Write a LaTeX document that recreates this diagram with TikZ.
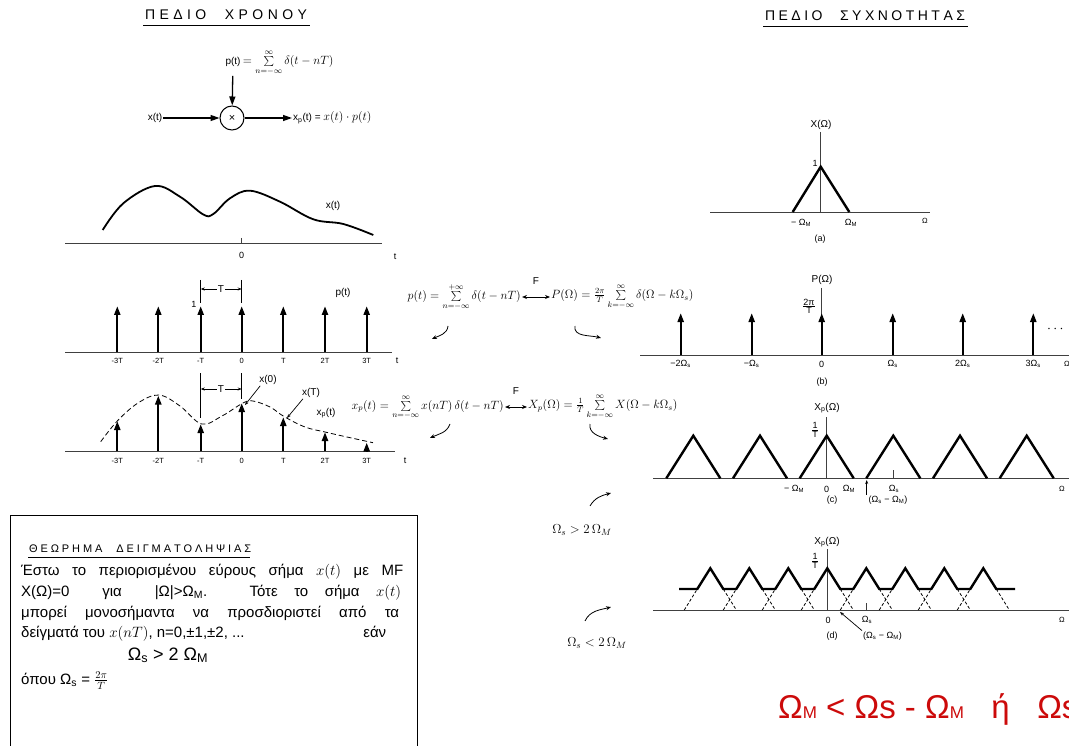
\RequirePackage{fix-cm}
\documentclass[tikz,border=0pt]{standalone}
\usepackage{fontspec}
\setmainfont{Liberation Sans}
\usetikzlibrary{arrows.meta}
\definecolor{redtxt}{RGB}{204,10,10}
\begin{document}
\begin{tikzpicture}[x=1pt,y=-1pt,
  every node/.style={inner sep=1pt},
  ax/.style={line width=0.9pt, black!75},
  thin/.style={line width=0.8pt},
  blk/.style={line width=1.3pt,-{Triangle[length=9pt,width=6pt]}},
  imp/.style={line width=2.2pt,-{Triangle[length=9pt,width=6pt]}},
  tri/.style={line width=2.4pt,line join=miter},
  harr/.style={line width=0.8pt,-{Stealth[length=5pt,width=4pt]}},
  tarr/.style={line width=0.7pt,-{Stealth[length=4pt,width=3pt]}},
  lbl/.style={font=\fontsize{9}{10}\selectfont},
  slbl/.style={font=\fontsize{7.5}{9}\selectfont},
  mlbl/.style={font=\fontsize{10}{12}\selectfont},
  hdr/.style={font=\fontsize{14}{16}\selectfont},
  frm/.style={font=\fontsize{12}{14}\selectfont},
  thm/.style={font=\fontsize{15}{17}\selectfont,anchor=base west}
]
\useasboundingbox[fill=white] (0,0) rectangle (1069,746);

% ---------- headers
\node[hdr,anchor=base] (h1) at (226,20) {\makebox[162pt][s]{Π Ε Δ Ι Ο \quad Χ Ρ Ο Ν Ο Υ}};
\draw[thin] (143,25) -- (310,25);
\node[hdr,anchor=base] (h2) at (865,21) {\makebox[200pt][s]{Π Ε Δ Ι Ο \quad Σ Υ Χ Ν Ο Τ Η Τ Α Σ}};
\draw[thin] (763,26) -- (968,26);

% ---------- block diagram
\node[circle,draw,line width=1pt,minimum size=24pt,inner sep=0pt,font=\fontsize{11}{12}\selectfont] (mult) at (232,118) {×};
\node[mlbl] (xin) at (155,118) {x(t)};
\draw[blk] (xin) -- (mult);
\node[mlbl] (ptl) at (233,62) {p(t)};
\node[frm,anchor=base west] (ptf) at (ptl.base east) {$=\sum\limits_{n=-\infty}^{\infty}\delta(t-nT)$};
\draw[blk,shorten <=8pt] (ptl) -- (mult);
\node[mlbl,anchor=west] (out) at (292,118) {x\textsubscript{p}(t) = {\fontsize{12}{14}\selectfont$x(t)\cdot p(t)$}};
\draw[blk] (mult) -- (out);

% ---------- x(t)
\draw[ax] (65,243) -- (382,243);
\draw[ax] (241.7,238) -- (241.7,243);
\node[lbl] (x0) at (241.7,255) {0};
\node[lbl] (xt) at (395,257) {t};
\draw[line width=1.8pt] plot[smooth,tension=0.6] coordinates {(102.7,230) (123.3,203.3) (155,186) (180,196.7) (203.3,214.5) (213.3,214) (230,198.3) (250,190.7) (280,201.7) (313.3,219.3) (343.3,224) (373.3,235)};
\node[mlbl] (xlab) at (333,206) {x(t)};

% ---------- p(t)
\draw[ax] (65,352) -- (392,352);
\foreach \x/\l [count=\i] in {117.3/-3T,158.3/-2T,200.7/-T,241.7/0,283.3/T,325/2T,366.7/3T}{
  \draw[imp] (\x,352) -- (\x,306);
  \node[slbl] (pl\i) at (\x,361) {\l};
}
\node[lbl] (one) at (194,304) {1};
\draw[thin] (200.7,280) -- (200.7,303);
\draw[thin] (241.7,280) -- (241.7,303);
\node[mlbl] (pT) at (221,289) {T};
\coordinate (pTl) at (200.7,289);
\coordinate (pTr) at (241.7,289);
\draw[tarr] (pT) -- (pTl);
\draw[tarr] (pT) -- (pTr);
\node[mlbl] (plab) at (343,293) {p(t)};
\node[lbl] (pt) at (397,361) {t};

% ---------- x_p(t)
\draw[ax] (65,451) -- (395,451);
\draw[dashed,line width=0.8pt,dash pattern=on 5pt off 3pt] plot[smooth,tension=0.6] coordinates {(100.7,441.7) (117.3,421) (138,403) (159,395) (180,406) (201.7,424) (222,416) (243,403) (253,401) (270,407) (284,416.5) (305,427) (325,432) (347,437) (373,442.7)};
\foreach \x/\t/\l [count=\i] in {117.3/421/-3T,158.3/395.5/-2T,200.7/424/-T,241.7/403/0,283.3/417/T,325/432/2T,366.7/442.5/3T}{
  \draw[imp] (\x,451) -- (\x,\t);
  \node[slbl] (ql\i) at (\x,461) {\l};
}
\draw[thin] (200.7,373) -- (200.7,418);
\draw[thin] (241.7,373) -- (241.7,399);
\node[mlbl] (qT) at (221,389) {T};
\coordinate (qTl) at (200.7,389);
\coordinate (qTr) at (241.7,389);
\draw[tarr] (qT) -- (qTl);
\draw[tarr] (qT) -- (qTr);
\node[mlbl] (x0l) at (268,380) {x(0)};
\coordinate (x0p) at (245,405);
\draw[tarr] (x0l.south west) ++(2,0) coordinate (x0s) (x0s) -- (x0p);
\node[mlbl] (xTl) at (311,393) {x(T)};
\coordinate (xTp) at (287,418);
\draw[tarr] (xTl.south west) ++(2,0) coordinate (xTs) (xTs) -- (xTp);
\node[mlbl] (xplab) at (326,413) {x\textsubscript{p}(t)};
\node[lbl] (qt) at (405,461) {t};

% ---------- middle formulas
\node[frm,anchor=east] (f1l) at (522,297) {$p(t)=\sum\limits_{n=-\infty}^{+\infty}\delta(t-nT)$};
\node[frm,anchor=west] (f1r) at (550,297) {$P(\Omega)=\frac{2\pi}{T}\sum\limits_{k=-\infty}^{\infty}\delta(\Omega-k\Omega_s)$};
\draw[line width=0.9pt,{Stealth[length=5pt,width=4pt]}-{Stealth[length=5pt,width=4pt]}] (f1l) -- node[above=11pt,font=\fontsize{10}{12}\selectfont] (F1) {F} (f1r);
\node[frm,anchor=east] (f2l) at (505,407) {$x_p(t)=\sum\limits_{n=-\infty}^{\infty}x(nT)\,\delta(t-nT)$};
\node[frm,anchor=west] (f2r) at (527,407) {$X_p(\Omega)=\frac{1}{T}\sum\limits_{k=-\infty}^{\infty}X(\Omega-k\Omega_s)$};
\draw[line width=0.9pt,{Stealth[length=5pt,width=4pt]}-{Stealth[length=5pt,width=4pt]}] (f2l) -- node[above=11pt,font=\fontsize{10}{12}\selectfont] (F2) {F} (f2r);

\coordinate (a1s) at (448,326); \coordinate (a1e) at (432,339);
\draw[harr] (a1s) to[out=-95,in=25] (a1e);
\coordinate (a2s) at (575,326); \coordinate (a2e) at (601,338);
\draw[harr] (a2s) to[out=-100,in=165] (a2e);
\coordinate (a3s) at (450,424); \coordinate (a3e) at (430,438);
\draw[harr] (a3s) to[out=-110,in=25] (a3e);
\coordinate (a4s) at (590,424); \coordinate (a4e) at (608,439);
\draw[harr] (a4s) to[out=-100,in=165] (a4e);

\node[font=\fontsize{13}{15}\selectfont] (cond1) at (582,530) {$\Omega_s > 2\,\Omega_M$};
\coordinate (a5s) at (590,506); \coordinate (a5e) at (611,493);
\draw[harr] (a5s) to[out=60,in=195] (a5e);
\node[font=\fontsize{13}{15}\selectfont] (cond2) at (597,643) {$\Omega_s < 2\,\Omega_M$};
\coordinate (a6s) at (585,621); \coordinate (a6e) at (611,607);
\draw[harr] (a6s) to[out=65,in=195] (a6e);

% ---------- (a)
\draw[ax] (710,212) -- (930,212);
\draw[ax] (820.7,132) -- (820.7,212);
\draw[tri] (792.7,212) -- (820.7,166.7) -- (849.3,212);
\node[mlbl] (Xa) at (821,125) {X(Ω)};
\node[lbl] (a1) at (815,163) {1};
\node[lbl] (aM1) at (801,223) {− Ω\textsubscript{M}};
\node[lbl] (aM2) at (851,223) {Ω\textsubscript{M}};
\node[slbl] (aO) at (925,221) {Ω};
\node[lbl] (acap) at (820,239) {(a)};

% ---------- (b)
\draw[ax] (640,355) -- (1069,355);
\draw[ax] (821.7,288) -- (821.7,320);
\foreach \x/\l [count=\i] in {680.7/−2Ω\textsubscript{s},751.7/−Ω\textsubscript{s},821.7/0,892.7/Ω\textsubscript{s},962.7/2Ω\textsubscript{s},1033.3/3Ω\textsubscript{s}}{
  \draw[imp] (\x,355) -- (\x,313);
  \node[lbl] (bl\i) at (\x,364) {\l};
}
\node[mlbl] (Pb) at (822,280) {P(Ω)};
\node[lbl] (Pv) at (809,306) {$\frac{\mbox{2π}}{\mbox{T}}$};
\node[font=\fontsize{14}{14}\selectfont,anchor=west] (bdots) at (1046,329) {$\cdots$};
\node[slbl,anchor=west] (bO) at (1063,364) {Ω};
\node[lbl] (bcap) at (822,382) {(b)};

% ---------- (c)
\draw[ax] (653,478.3) -- (1069,478.3);
\draw[ax] (826.7,417) -- (826.7,478.3);
\draw[ax] (893.3,470) -- (893.3,478.3);
\foreach \c in {693.3,760,826.7,893.3,960,1026.7}{
  \draw[tri] (\c-27,478.3) -- (\c,435.7) -- (\c+27,478.3);
}
\node[mlbl] (Xc) at (827,408) {X\textsubscript{p}(Ω)};
\node[lbl] (cv) at (815,430) {$\frac{\mbox{1}}{\mbox{T}}$};
\node[lbl] (cl1) at (794,489) {− Ω\textsubscript{M}};
\node[lbl] (cl2) at (826.7,489) {0};
\node[lbl] (cl3) at (849,489) {Ω\textsubscript{M}};
\node[lbl] (cl4) at (894,489) {Ω\textsubscript{s}};
\node[slbl] (cl5) at (1062,489) {Ω};
\node[lbl] (ccap) at (832,500) {(c)};
\node[lbl] (clab) at (888,500) {(Ω\textsubscript{s} − Ω\textsubscript{M})};
\coordinate (ccross) at (866.7,480);
\draw[tarr] (clab.north west -| ccross) -- (ccross);

% ---------- (d)
\draw[ax] (653,610) -- (1069,610);
\draw[ax] (827.3,549) -- (827.3,610);
\draw[ax] (866.3,603) -- (866.3,610);
\foreach \c in {710.3,749.3,788.3,827.3,866.3,905.3,944.3,983.3}{
  \draw[thin,dashed,dash pattern=on 3pt off 2pt] (\c-26,610) -- (\c-13,589);
  \draw[thin,dashed,dash pattern=on 3pt off 2pt] (\c+13,589) -- (\c+26,610);
}
\draw[tri] (679,589) \foreach \c in {710.3,749.3,788.3,827.3,866.3,905.3,944.3,983.3}{ -- (\c-13,589) -- (\c,568.3) -- (\c+13,589) } -- (1015,589);
\node[mlbl] (Xd) at (827,542) {X\textsubscript{p}(Ω)};
\node[lbl] (dv) at (815,561) {$\frac{\mbox{1}}{\mbox{T}}$};
\node[lbl] (dl1) at (828,620) {0};
\node[lbl] (dl2) at (867,620) {Ω\textsubscript{s}};
\node[slbl] (dl3) at (1062,620) {Ω};
\node[lbl] (dcap) at (832,636) {(d)};
\node[lbl,anchor=west] (dlab) at (862,636) {(Ω\textsubscript{s} − Ω\textsubscript{M})};
\coordinate (dcross) at (840,612);
\draw[tarr] (dlab.north west) -- (dcross);

% ---------- theorem box
\draw[line width=1pt] (10,515) rectangle (417,760);
\node[font=\fontsize{11}{13}\selectfont,anchor=base west] (tt) at (28,552) {\makebox[222pt][s]{Θ Ε Ω Ρ Η Μ Α \quad Δ Ε Ι Γ Μ Α Τ Ο Λ Η Ψ Ι Α Σ}};
\draw[thin] (28,557) -- (250,557);
\node[thm] (t1) at (20,575) {\makebox[382pt][s]{Έστω το περιορισμένου εύρους σήμα $x(t)$ με ΜF}};
\node[thm] (t2) at (20,596) {\makebox[380pt][s]{X(Ω)=0 \ για \ |Ω|>Ω\textsubscript{M}. Τότε το σήμα $x(t)$}};
\node[thm] (t3) at (20,617) {\makebox[378pt][s]{μπορεί μονοσήμαντα να προσδιοριστεί από τα}};
\node[thm] (t4) at (20,637) {\makebox[365pt][l]{δείγματά του $x(nT)$, n=0,±1,±2, ...\hfill εάν}};
\node[font=\fontsize{18}{20}\selectfont,anchor=base] (t5) at (168,660) {Ω\textsubscript{s} > 2 Ω\textsubscript{M}};
\node[thm] (t6) at (20,684) {όπου Ω\textsubscript{s} = $\frac{2\pi}{T}$};

% ---------- red text
\node[anchor=base west,text=redtxt,font=\fontsize{33}{35}\selectfont,inner sep=0pt] (red) at (778,718) {Ω{\fontsize{17}{18}\selectfont M} < Ωs - Ω{\fontsize{17}{18}\selectfont M}\ \ \ ή\ \ \ Ωs};
\end{tikzpicture}
\end{document}
